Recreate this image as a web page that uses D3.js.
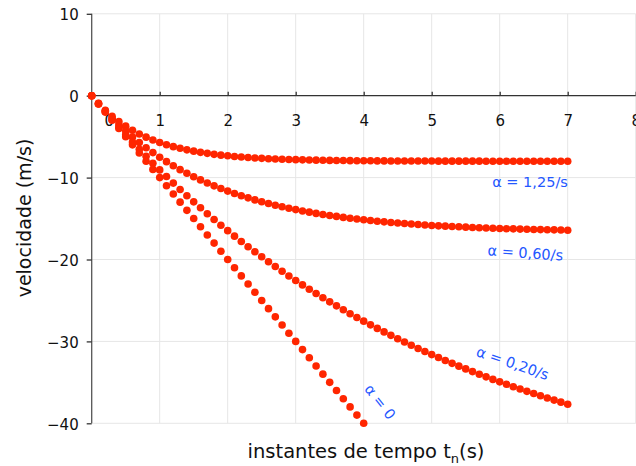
<!DOCTYPE html>
<html><head><meta charset="utf-8">
<script src="https://cdn.jsdelivr.net/npm/d3@7"></script>
<style>body{margin:0;background:#fff}svg{display:block}</style>
</head><body>
<svg id="c" width="636" height="466"></svg>
<script>
// time step 0.1 s
const dt = 0.1;
const xTicks = [0,1,2,3,4,5,6,7,8];
const yTicks = [10,0,-10,-20,-30,-40];
const alphaLabels = ["α = 1,25/s","α = 0,60/s","α = 0,20/s","α = 0"];

const v125 = [0,-0.94,-1.77,-2.50,-3.15,-3.72,-4.22,-4.67,-5.06,-5.40,-5.71,-5.98,-6.22,-6.42,-6.61,-6.77,-6.92,-7.04,-7.16,-7.26,-7.34,-7.42,-7.49,-7.55,-7.60,-7.65,-7.69,-7.73,-7.76,-7.79,-7.81,-7.83,-7.85,-7.87,-7.89,-7.90,-7.91,-7.92,-7.93,-7.94,-7.95,-7.95,-7.96,-7.96,-7.97,-7.97,-7.97,-7.98,-7.98,-7.98,-7.98,-7.99,-7.99,-7.99,-7.99,-7.99,-7.99,-7.99,-8.00,-8.00,-8.00,-8.00,-8.00,-8.00,-8.00,-8.00,-8.00,-8.00,-8.00,-8.00,-8.00];
const v060 = [0,-0.97,-1.88,-2.75,-3.56,-4.32,-5.04,-5.72,-6.35,-6.95,-7.52,-8.05,-8.55,-9.03,-9.47,-9.89,-10.28,-10.66,-11.01,-11.34,-11.65,-11.94,-12.21,-12.47,-12.72,-12.95,-13.16,-13.37,-13.56,-13.74,-13.91,-14.07,-14.22,-14.37,-14.50,-14.63,-14.74,-14.86,-14.96,-15.06,-15.15,-15.24,-15.33,-15.40,-15.48,-15.55,-15.61,-15.67,-15.73,-15.79,-15.84,-15.89,-15.93,-15.97,-16.01,-16.05,-16.09,-16.12,-16.15,-16.18,-16.21,-16.24,-16.26,-16.29,-16.31,-16.33,-16.35,-16.37,-16.38,-16.40,-16.42];
const v020 = [0,-0.99,-1.96,-2.91,-3.84,-4.76,-5.65,-6.53,-7.39,-8.24,-9.06,-9.87,-10.67,-11.45,-12.21,-12.96,-13.69,-14.41,-15.12,-15.81,-16.48,-17.15,-17.80,-18.44,-19.06,-19.67,-20.27,-20.86,-21.44,-22.01,-22.56,-23.10,-23.64,-24.16,-24.67,-25.17,-25.66,-26.14,-26.62,-27.08,-27.53,-27.98,-28.41,-28.84,-29.26,-29.67,-30.07,-30.47,-30.86,-31.23,-31.61,-31.97,-32.33,-32.68,-33.02,-33.36,-33.69,-34.01,-34.33,-34.64,-34.94,-35.24,-35.53,-35.82,-36.10,-36.37,-36.64,-36.91,-37.17,-37.42,-37.67];
const v000 = [0,-1,-2,-3,-4,-5,-6,-7,-8,-9,-10,-11,-12,-13,-14,-15,-16,-17,-18,-19,-20,-21,-22,-23,-24,-25,-26,-27,-28,-29,-30,-31,-32,-33,-34,-35,-36,-37,-38,-39,-40];

const svg = d3.select("#c");
const font = "'DejaVu Sans', Verdana, sans-serif";
const x = d3.scaleLinear().domain([0,8]).range([91.7,635.7]);
const y = d3.scaleLinear().domain([-40,10]).range([423.3,13.8]);

// grid
const g = svg.append("g");
g.selectAll("line.vx").data(xTicks.filter(d=>d>0)).join("line")
  .attr("x1",d=>x(d)).attr("x2",d=>x(d)).attr("y1",y(10)).attr("y2",y(-40))
  .attr("stroke","#e6e6e6").attr("stroke-width",1);
g.selectAll("line.hy").data(yTicks.filter(d=>d!==0)).join("line")
  .attr("x1",x(0)).attr("x2",x(8)).attr("y1",d=>y(d)).attr("y2",d=>y(d))
  .attr("stroke","#e6e6e6").attr("stroke-width",1);

// y axis
const ya = svg.append("g").attr("transform",`translate(${x(0)},0)`)
  .call(d3.axisLeft(y).tickValues(yTicks).tickSize(5).tickPadding(8).tickFormat(d=>d<0?"\u2212"+(-d):d));
ya.select(".domain").attr("stroke","#555").attr("stroke-width",1.3).attr("d",`M0,${y(10)}V${y(-40)}`);
ya.selectAll(".tick line").attr("stroke","#333").attr("stroke-width",1.3);
ya.selectAll(".tick text").attr("font-family",font).attr("font-size",15).attr("fill","#111").attr("dy","0.4em");

// x axis at y=0
const xa = svg.append("g").attr("transform",`translate(0,${y(0)})`)
  .call(d3.axisTop(x).tickValues(xTicks).tickSize(4).tickFormat(d=>d));
xa.select(".domain").attr("stroke","#333").attr("stroke-width",1.3).attr("d",`M${x(0)},0H${x(8)}`);
xa.selectAll(".tick line").attr("stroke","#333").attr("stroke-width",1.3);
xa.selectAll(".tick text").attr("font-family",font).attr("font-size",15).attr("fill","#111")
  .attr("y",30).attr("dy",0)
  .attr("x",d=>d===0?17:0);
xa.selectAll(".tick").filter(d=>d===0).select("line").remove();

// dots
const series = [v125, v060, v020, v000];
const dotsG = svg.append("g");
series.forEach(s=>{
  dotsG.selectAll(null).data(s).join("circle")
    .attr("cx",(d,i)=>x(i*dt)).attr("cy",d=>y(d)).attr("r",3.8).attr("fill","#ff2600");
});

// series labels
const lab = [
  {t:alphaLabels[0], x:530, y:187, r:0},
  {t:alphaLabels[1], x:525, y:258, r:4},
  {t:alphaLabels[2], x:511, y:368, r:19},
  {t:alphaLabels[3], x:376, y:405, r:52}
];
svg.selectAll("text.al").data(lab).join("text").attr("class","al")
  .attr("transform",d=>`translate(${d.x},${d.y}) rotate(${d.r})`)
  .attr("text-anchor","middle").attr("font-family",font).attr("font-size",14.5)
  .attr("fill","#2457ff").text(d=>d.t);

// axis titles
svg.append("text").attr("transform","translate(31,218) rotate(-90)")
  .attr("text-anchor","middle").attr("font-family",font).attr("font-size",19).attr("fill","#111")
  .text("velocidade (m/s)");
const xt = svg.append("text").attr("x",366).attr("y",458)
  .attr("text-anchor","middle").attr("font-family",font).attr("font-size",19.5).attr("fill","#111");
xt.append("tspan").text("instantes de tempo t");
xt.append("tspan").attr("font-size",13).attr("dy",5).text("n");
xt.append("tspan").attr("dy",-5).text("(s)");
</script>
</body></html>
